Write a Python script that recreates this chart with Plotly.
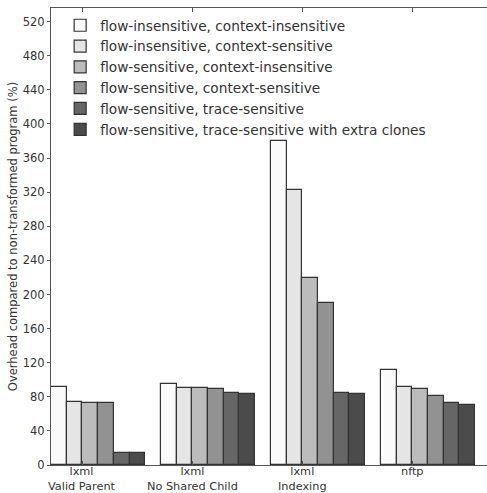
import plotly.graph_objects as go

categories = ["lxml<br>Valid Parent", "lxml<br>No Shared Child", "lxml<br>Indexing", "nftp"]
series_names = [
    "flow-insensitive, context-insensitive",
    "flow-insensitive, context-sensitive",
    "flow-sensitive, context-insensitive",
    "flow-sensitive, context-sensitive",
    "flow-sensitive, trace-sensitive",
    "flow-sensitive, trace-sensitive with extra clones",
]
fi_ci = [91, 95, 380, 112]
fi_cs = [74, 90, 323, 91]
fs_ci = [73, 90, 219, 89]
fs_cs = [73, 89, 190, 81]
fs_ts = [14, 85, 85, 73]
fs_ts_clones = [14, 83, 83, 70]
series_values = [fi_ci, fi_cs, fs_ci, fs_cs, fs_ts, fs_ts_clones]
colors = ["#fafafa", "#e5e5e5", "#bcbcbc", "#929292", "#666666", "#4b4b4b"]
y_ticks = list(range(0, 521, 40))

w = 1.0 / 7
fig = go.Figure()
for j, (name, vals) in enumerate(zip(series_names, series_values)):
    xs = [i + (j - 2) * w + w / 2 for i in range(len(categories))]
    fig.add_trace(go.Bar(
        x=xs, y=vals, width=w, name=name,
        marker=dict(color=colors[j], line=dict(color="#333333", width=1.2)),
    ))

# category labels drawn as text under the axis
for i, cat in enumerate(categories):
    fig.add_annotation(
        x=i, xref="x", y=0, yref="paper",
        text=cat, showarrow=False,
        xanchor="center", yanchor="top", align="center",
        yshift=1, borderpad=0,
        font=dict(family="DejaVu Sans", size=11.3, color="#333333"),
    )

fig.update_layout(
    width=487, height=493,
    margin=dict(l=51, r=0, t=8, b=28),
    plot_bgcolor="white", paper_bgcolor="white",
    font=dict(family="DejaVu Sans", size=11.5, color="#333333"),
    showlegend=True,
    legend=dict(
        x=0.021, y=0.996, xanchor="left", yanchor="top",
        font=dict(size=13.7, color="#333333"),
        bgcolor="rgba(0,0,0,0)", tracegroupgap=0,
        itemwidth=30,
    ),
    bargap=0,
)
fig.update_xaxes(
    range=[-2 * w, 3.68],
    tickvals=list(range(len(categories))), showticklabels=False,
    showline=True, linecolor="#555555", linewidth=1, mirror="ticks",
    ticks="inside", ticklen=4, tickcolor="#555555",
    showgrid=False, zeroline=False, automargin=False,
)
fig.update_yaxes(
    range=[0, 536],
    tickvals=y_ticks,
    showline=True, linecolor="#555555", linewidth=1, mirror=False,
    ticks="outside", ticklen=3, tickcolor="#555555",
    showgrid=False, zeroline=False, automargin=False,
    title=dict(text="Overhead compared to non-transformed program (%)", font=dict(size=11.5), standoff=2),
    tickfont=dict(size=11.5),
)
fig.write_html(
    "out.html",
    config={"displayModeBar": False},
    post_script="document.body.style.margin='0';document.body.style.overflow='hidden';",
)
